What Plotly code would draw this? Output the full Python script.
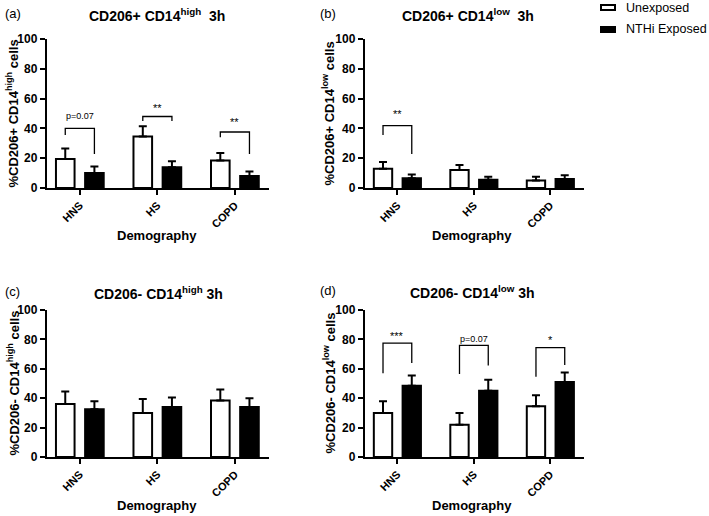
import plotly.graph_objects as go

# categories and series
groups = ["HNS", "HS", "COPD"]
series_names = ["Unexposed", "NTHi Exposed"]

a_unexp = [19.5, 34.5, 18.5]
a_unexp_err = [7, 7, 5]
a_exp = [10, 14, 8]
a_exp_err = [4.5, 4, 3]

b_unexp = [13, 12, 5]
b_unexp_err = [4.5, 3.5, 2.5]
b_exp = [6.5, 5.5, 6]
b_exp_err = [2.5, 2, 2.5]

c_unexp = [36, 30, 38.5]
c_unexp_err = [8.5, 9.5, 7.5]
c_exp = [32.5, 34, 34]
c_exp_err = [5.5, 6.5, 6]

d_unexp = [30, 22, 34.5]
d_unexp_err = [8, 8, 7.5]
d_exp = [48.5, 45, 51]
d_exp_err = [7, 7.5, 6.5]

# significance brackets: (group index, top, left leg end, right leg end, label, label y)
a_sig = [(0, 40, 35.5, 22.8, "p=0.07", 48), (1, 48, 45, 45, "**", 54), (2, 37.6, 34, 22.8, "**", 44)]
b_sig = [(0, 41.8, 35.6, 22.8, "**", 50)]
c_sig = []
d_sig = [(0, 77.5, 57, 64, "***", 82), (1, 76, 56.5, 62.3, "p=0.07", 80), (2, 74.4, 54.6, 62.6, "*", 79.5)]

titles = ["CD206+ CD14<sup>high</sup>  3h", "CD206+ CD14<sup>low</sup>  3h",
          "CD206- CD14<sup>high</sup> 3h", "CD206- CD14<sup>low</sup> 3h"]
ytitles = ["%CD206+ CD14<sup>high</sup> cells", "%CD206+ CD14<sup>low</sup> cells",
           "%CD206- CD14<sup>high</sup> cells", "%CD206- CD14<sup>low</sup> cells"]
letters = ["(a)", "(b)", "(c)", "(d)"]

FONT = "Liberation Sans, Arial, sans-serif"
BAR_W = 0.24
HALF = 0.188
fills = ["white", "black"]

panels = [
    (a_unexp, a_unexp_err, a_exp, a_exp_err, a_sig),
    (b_unexp, b_unexp_err, b_exp, b_exp_err, b_sig),
    (c_unexp, c_unexp_err, c_exp, c_exp_err, c_sig),
    (d_unexp, d_unexp_err, d_exp, d_exp_err, d_sig),
]

W, H = 709, 516
# domains in pixels of the 709x516 canvas
xdoms = [(46.5 / W, 269 / W), (364.5 / W, 584 / W), (46.5 / W, 269 / W), (364.5 / W, 584 / W)]
ydoms = [(1 - 188 / H, 1 - 39 / H), (1 - 188 / H, 1 - 39 / H),
         (1 - 457 / H, 1 - 310 / H), (1 - 457 / H, 1 - 310 / H)]
title_x = [157 / W, 468 / W, 158 / W, 472 / W]
title_y = [1 - 15 / H, 1 - 15 / H, 1 - 293 / H, 1 - 292 / H]
letter_x = [3 / W, 318 / W, 3 / W, 318 / W]
ytitle_x = [13 / W, 329 / W, 13 / W, 329 / W]
xtitle_x = [157 / W, 472 / W, 157 / W, 472 / W]
xtitle_y = [1 - 236 / H, 1 - 236 / H, 1 - 505 / H, 1 - 505 / H]

fig = go.Figure()
xpos = list(range(len(groups)))

for i, (u, ue, e, ee, sig) in enumerate(panels):
    n = "" if i == 0 else str(i + 1)
    xa, ya = "x" + n, "y" + n
    for k, (vals, errs) in enumerate([(u, ue), (e, ee)]):
        fig.add_trace(go.Bar(
            x=xpos, y=vals, width=BAR_W, offset=(-HALF if k == 0 else HALF) - BAR_W / 2,
            marker=dict(color=fills[k], line=dict(color="black", width=2)),
            error_y=dict(type="data", symmetric=False, array=errs, arrayminus=[0] * 3,
                         color="black", thickness=2, width=4),
            name=series_names[k], showlegend=False, xaxis=xa, yaxis=ya))

    fig.update_layout({
        "xaxis" + n: dict(domain=xdoms[i], anchor=ya, range=[-0.43, 2.44],
                          tickvals=xpos, ticktext=groups, tickangle=-45, automargin=False,
                          showline=True, linecolor="black", linewidth=1.5,
                          ticks="outside", ticklen=5, tickwidth=1.5, tickcolor="black",
                          showgrid=False, zeroline=False,
                          tickfont=dict(family=FONT, size=11, color="black", weight="bold")),
        "yaxis" + n: dict(domain=ydoms[i], anchor=xa, range=[0, 100], automargin=False,
                          tickvals=[0, 20, 40, 60, 80, 100],
                          showline=True, linecolor="black", linewidth=1.5,
                          ticks="outside", ticklen=5, tickwidth=1.5, tickcolor="black",
                          showgrid=False, zeroline=False,
                          tickfont=dict(family=FONT, size=12, color="black", weight="bold")),
    })

    # axis titles, panel title and letter
    fig.add_annotation(xref="paper", yref="paper", x=ytitle_x[i], y=sum(ydoms[i]) / 2,
                       xanchor="center", yanchor="middle",
                       text=ytitles[i], textangle=-90, showarrow=False,
                       font=dict(family=FONT, size=13, color="black", weight="bold"))
    fig.add_annotation(xref="paper", yref="paper", x=xtitle_x[i], y=xtitle_y[i],
                       xanchor="center", yanchor="middle",
                       text="Demography", showarrow=False,
                       font=dict(family=FONT, size=13, color="black", weight="bold"))
    fig.add_annotation(xref="paper", yref="paper", x=title_x[i], y=title_y[i],
                       xanchor="center", yanchor="middle",
                       text=titles[i], showarrow=False,
                       font=dict(family=FONT, size=14, color="black", weight="bold"))
    fig.add_annotation(xref="paper", yref="paper", x=letter_x[i],
                       y=title_y[i] + 0.002, xanchor="left", yanchor="middle",
                       text=letters[i], showarrow=False,
                       font=dict(family=FONT, size=13, color="black"))

    for g, top, lleg, rleg, lab, ly in sig:
        x0, x1 = g - HALF, g + HALF
        fig.add_shape(type="path", xref=xa, yref=ya,
                      path=f"M {x0} {lleg} L {x0} {top} L {x1} {top} L {x1} {rleg}",
                      line=dict(color="black", width=1.3))
        fig.add_annotation(xref=xa, yref=ya, x=g, y=ly, text=lab, showarrow=False,
                           xanchor="center", yanchor="middle",
                           font=dict(family=FONT, size=9 if lab.startswith("p") else 11,
                                     color="black"))

# legend drawn by hand: wide flat swatches like the original
legend_y = [7.5, 29.5]
for k, name in enumerate(series_names):
    yc = 1 - legend_y[k] / H
    fig.add_shape(type="rect", xref="paper", yref="paper",
                  x0=601 / W, x1=615 / W, y0=yc - 2.5 / H, y1=yc + 2.5 / H,
                  fillcolor=fills[k], line=dict(color="black", width=2))
    fig.add_annotation(xref="paper", yref="paper", x=624 / W, y=yc,
                       xanchor="left", yanchor="middle", text=name, showarrow=False,
                       font=dict(family=FONT, size=12.5, color="black"))

fig.update_layout(
    width=W, height=H,
    margin=dict(l=0, r=0, t=0, b=0),
    barmode="overlay",
    plot_bgcolor="white", paper_bgcolor="white",
    showlegend=False,
)

# drop the default page margin so the figure sits at the window's corner
fig.write_html("out.html", config={"displayModeBar": False},
               post_script="document.body.style.margin='0';")
